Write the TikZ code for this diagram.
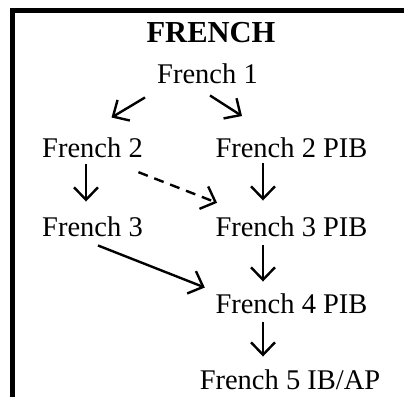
\documentclass[tikz,border=0pt]{standalone}
\usepackage{fontspec}
\setmainfont{Liberation Serif}
\usetikzlibrary{arrows.meta}

\tikzstyle{course}=[inner sep=0pt, anchor=base, font=\fontsize{28.5}{34}\selectfont]

\begin{document}
\begin{tikzpicture}[x=1pt, y=1pt, ln/.style = {line width=2.4pt, -{Straight Barb[length=12.5pt, width=24pt]}}]
    \useasboundingbox (0,0) rectangle (404,397);
    \draw[line width=5pt] (12.5,0) -- (12.5,386) -- (404,386);

    \node (title) [course, font=\fontsize{30.5}{36}\selectfont\bfseries] at (211,354) {FRENCH};
    \node (f1) [course] at (207.5,313) {French 1};
    \node (f2) [course] at (92.5,240) {French 2};
    \node (f2p) [course] at (291.5,240) {French 2 PIB};
    \node (f3) [course] at (92.5,161) {French 3};
    \node (f3p) [course] at (291.5,161) {French 3 PIB};
    \node (f4p) [course] at (291.5,84) {French 4 PIB};
    \node (f5) [course] at (290,8) {French 5 IB/AP};

    \path[ln]
    ([xshift=-62.5pt,yshift=-13pt]f1.south) edge ([xshift=19pt,yshift=19.5pt]f2.north)
    ([xshift=2.5pt,yshift=-11pt]f1.south) edge ([xshift=-49.5pt,yshift=21pt]f2p.north)
    ([xshift=-6.5pt,yshift=-7pt]f2.south) edge ([xshift=-6.5pt,yshift=14.5pt]f3.north)
    ([xshift=-28.5pt,yshift=-6pt]f2p.south) edge ([xshift=-28.5pt,yshift=15.5pt]f3p.north)
    ([xshift=-4.5pt,yshift=-14.7pt]f2.south east) edge [dash pattern=on 10pt off 7pt] ([xshift=1.8pt,yshift=13.2pt]f3p.north west)
    ([xshift=5.5pt,yshift=-9pt]f3.south) edge ([xshift=-10.5pt,yshift=5.5pt]f4p.north west)
    ([xshift=-28.5pt,yshift=-9pt]f3p.south) edge ([xshift=-28.5pt,yshift=11.5pt]f4p.north)
    ([xshift=-28.5pt,yshift=-9pt]f4p.south) edge ([xshift=-27pt,yshift=12.5pt]f5.north);
\end{tikzpicture}
\end{document}
